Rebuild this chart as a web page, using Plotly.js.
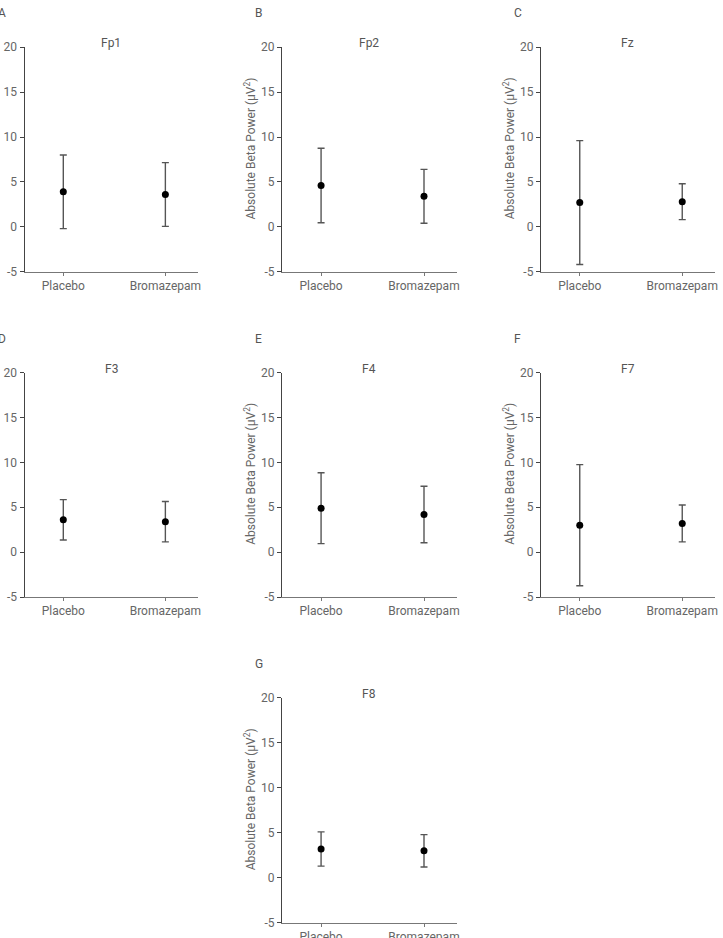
<!DOCTYPE html>
<html>
<head>
<meta charset="utf-8">
<script src="https://cdn.plot.ly/plotly-3.0.1.min.js"></script>
<style>
  html, body { margin: 0; padding: 0; background: #fff; }
  #chart { width: 723px; height: 938px; }
</style>
</head>
<body>
<div id="chart"></div>
<script>
// Absolute beta power (mean ± SD) per frontal electrode, placebo vs bromazepam
const panelLetters = ['A', 'B', 'C', 'D', 'E', 'F', 'G'];
const electrodes = ['Fp1', 'Fp2', 'Fz', 'F3', 'F4', 'F7', 'F8'];
const conditions = ['Placebo', 'Bromazepam'];

const placeboMean = [3.9, 4.6, 2.7, 3.6, 4.9, 3.0, 3.2];
const placeboSD   = [4.1, 4.15, 6.9, 2.25, 3.95, 6.75, 1.9];
const bromazepamMean = [3.6, 3.4, 2.8, 3.4, 4.2, 3.2, 3.0];
const bromazepamSD   = [3.55, 3.0, 2.0, 2.25, 3.15, 2.05, 1.8];

const yTickValues = [-5, 0, 5, 10, 15, 20];
const yTickLabels = ['-5', '0', '5', '10', '15', '20'];
const yTitle = 'Absolute Beta Power (\u00b5V<sup>2</sup>)';
const showYTitle = [false, true, true, false, true, true, true];

// panel placement (paper fractions)
const colDomains = [[0.0339, 0.2739], [0.390, 0.632], [0.748, 0.989]];
const rowDomains = [[0.7103, 0.9496], [0.3635, 0.6027], [0.0163, 0.2559]];
const panelCell = [[0, 0], [0, 1], [0, 2], [1, 0], [1, 1], [1, 2], [2, 1]];

const W = 723, H = 938;
const font = 'Roboto, "Open Sans", sans-serif';
const labelColor = '#666';
const traces = [];
const annotations = [];
const layout = {
  width: W, height: H,
  margin: {l: 0, r: 0, t: 0, b: 0},
  paper_bgcolor: '#fff', plot_bgcolor: '#fff',
  showlegend: false,
  font: {family: font, size: 12, color: labelColor},
  annotations: annotations
};

electrodes.forEach((name, i) => {
  const n = i + 1;
  const xa = 'x' + (n === 1 ? '' : n);
  const ya = 'y' + (n === 1 ? '' : n);
  const [r, c] = panelCell[i];

  traces.push({
    type: 'scatter', mode: 'markers',
    x: conditions,
    y: [placeboMean[i], bromazepamMean[i]],
    error_y: {
      type: 'data', symmetric: true,
      array: [placeboSD[i], bromazepamSD[i]],
      color: '#555', thickness: 1.4, width: 3.5
    },
    marker: {color: '#000', size: 7},
    xaxis: xa, yaxis: ya,
    hoverinfo: 'skip'
  });

  layout['xaxis' + (n === 1 ? '' : n)] = {
    domain: colDomains[c], anchor: ya,
    type: 'category', range: [-0.38, 1.32],
    showgrid: false, zeroline: false,
    showline: true, linecolor: '#777', linewidth: 1,
    ticks: 'outside', ticklen: 3, tickcolor: '#777', tickwidth: 1,
    tickfont: {family: font, size: 12, color: labelColor},
    fixedrange: true
  };
  layout['yaxis' + (n === 1 ? '' : n)] = {
    domain: rowDomains[r], anchor: xa,
    range: [-5, 20],
    tickvals: yTickValues, ticktext: yTickLabels,
    showgrid: false, zeroline: false,
    showline: true, linecolor: '#444', linewidth: 1,
    ticks: 'outside', ticklen: 4, tickcolor: '#444', tickwidth: 1,
    tickfont: {family: font, size: 12, color: labelColor},
    fixedrange: true
  };

  const xref = xa + ' domain', yref = ya + ' domain';
  // electrode name above the plot area
  annotations.push({
    xref: xref, yref: yref, x: 0.5, y: 1,
    xanchor: 'center', yanchor: 'middle', yshift: 4,
    text: name, showarrow: false,
    font: {family: font, size: 12, color: '#555'}
  });
  // panel letter
  annotations.push({
    xref: xref, yref: yref, x: 0, y: 1,
    xanchor: 'left', yanchor: 'middle', xshift: -29, yshift: 34,
    text: panelLetters[i], showarrow: false,
    font: {family: font, size: 12, color: '#555'}
  });
  if (showYTitle[i]) {
    annotations.push({
      xref: xref, yref: yref, x: 0, y: 0.5,
      xanchor: 'center', yanchor: 'middle', xshift: -32, yshift: 11,
      textangle: -90,
      text: yTitle, showarrow: false,
      font: {family: font, size: 12, color: labelColor}
    });
  }
});

Plotly.newPlot('chart', traces, layout, {displayModeBar: false, staticPlot: true});
</script>
</body>
</html>
